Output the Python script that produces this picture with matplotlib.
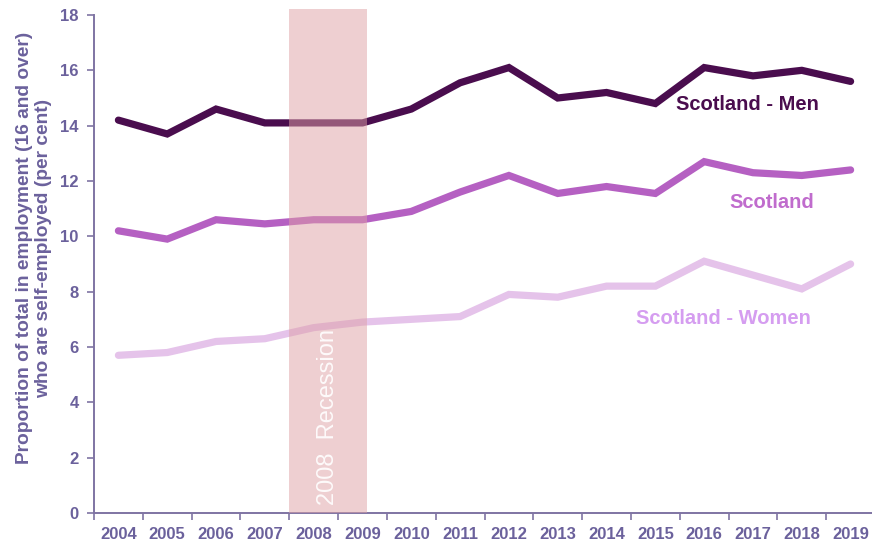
import matplotlib
matplotlib.use("Agg")
import matplotlib.pyplot as plt
import numpy as np

years = ["2004", "2005", "2006", "2007", "2008", "2009", "2010", "2011",
         "2012", "2013", "2014", "2015", "2016", "2017", "2018", "2019"]
men = [14.2, 13.7, 14.6, 14.1, 14.1, 14.1, 14.6, 15.55, 16.1, 15.0, 15.2, 14.8, 16.1, 15.8, 16.0, 15.6]
scotland = [10.2, 9.9, 10.6, 10.45, 10.6, 10.6, 10.9, 11.6, 12.2, 11.55, 11.8, 11.55, 12.7, 12.3, 12.2, 12.4]
women = [5.7, 5.8, 6.2, 6.3, 6.7, 6.9, 7.0, 7.1, 7.9, 7.8, 8.2, 8.2, 9.1, 8.6, 8.1, 9.0]
y_ticks = [0, 2, 4, 6, 8, 10, 12, 14, 16, 18]
recession_label = "2008  Recession"
ylabel = "Proportion of total in employment (16 and over)\nwho are self-employed (per cent)"
series_labels = ["Scotland - Men", "Scotland", "Scotland - Women"]

plt.rcParams['font.family'] = ['Liberation Sans', 'DejaVu Sans']
axis_col = '#6b619c'
spine_col = '#7f74a3'

fig = plt.figure(figsize=(8.72, 5.42), dpi=100)
ax = fig.add_axes([94/872, 29/542, (875-94)/872, (513-15)/542])

x = np.arange(len(years))
ax.plot(x, men, color='#4a0d4e', lw=5.2, solid_capstyle='round', solid_joinstyle='miter', zorder=3)
ax.plot(x, scotland, color='#b560c2', lw=5.2, solid_capstyle='round', solid_joinstyle='miter', zorder=3)
ax.plot(x, women, color='#e5c3ea', lw=5.2, solid_capstyle='round', solid_joinstyle='miter', zorder=3)

# recession band (2008-2009)
i08 = years.index("2008")
i09 = years.index("2009")
ax.axvspan(i08 - 0.5, i09 + 0.09, ymin=0, ymax=18.2/18, color=(223/255, 161/255, 165/255),
           alpha=0.5, lw=0, zorder=4, clip_on=False)
ax.text((i08 - 0.5 + i09 + 0.09) / 2, 0.3, recession_label, rotation=90, color='white',
        fontsize=17, ha='center', va='bottom', zorder=5, alpha=0.9)

ax.set_xlim(-0.5, len(years) - 0.5)
ax.set_ylim(0, 18)
ax.set_yticks(y_ticks)
ax.set_yticklabels([str(v) for v in y_ticks])
ax.set_xticks(np.arange(-0.5, len(years)))
ax.set_xticklabels([])
ax.set_xticks(x, minor=True)
ax.set_xticklabels(years, minor=True)
ax.tick_params(axis='x', which='major', length=5, width=1.2, color=spine_col, direction='out')
ax.tick_params(axis='x', which='minor', length=0, pad=10, labelsize=12, labelcolor=axis_col)
ax.tick_params(axis='y', length=5, width=1.2, color=spine_col, direction='out', pad=6,
               labelsize=12, labelcolor=axis_col)
for lab in ax.get_xticklabels(minor=True) + ax.get_yticklabels():
    lab.set_fontweight('bold')

for s in ['top', 'right']:
    ax.spines[s].set_visible(False)
for s in ['left', 'bottom']:
    ax.spines[s].set_color(spine_col)
    ax.spines[s].set_linewidth(1.4)

fig.text(34/872, 1 - 248/542, ylabel, rotation=90, ha='center', va='center',
         fontsize=13.8, fontweight='bold', color=axis_col, linespacing=1.2)


def fig_xy(px, py):
    return (px / 872, 1 - py / 542)


fig.text(*fig_xy(747, 105), series_labels[0], fontsize=14.5, fontweight='bold',
         color='#4a0d4e', ha='center', va='center')
fig.text(*fig_xy(772, 203), series_labels[1], fontsize=14.5, fontweight='bold',
         color='#c06ccd', ha='center', va='center')
fig.text(*fig_xy(723, 318), series_labels[2], fontsize=14.5, fontweight='bold',
         color='#d59df0', ha='center', va='center')

fig.savefig("out.png", dpi=100)
